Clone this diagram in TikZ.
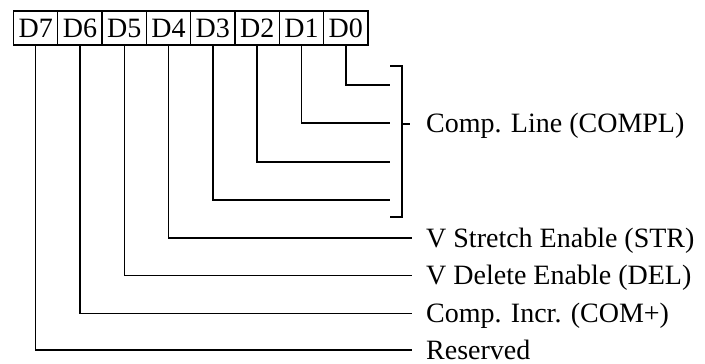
\documentclass[tikz,border=0pt]{standalone}
\usepackage{fontspec}
\setmainfont{Liberation Serif}
\begin{document}
\begin{tikzpicture}[x=1pt,y=-1pt,
  bitbox/.style={draw, line width=1.3pt, minimum width=44.3pt, minimum height=34pt, inner sep=0pt, font=\fontsize{28}{30}\selectfont},
  lbl/.style={anchor=base west, inner sep=0pt, font=\fontsize{28}{30}\selectfont},
  wire/.style={line width=1.5pt}]
\useasboundingbox (0,0) rectangle (705,364);
% register bits
\node[bitbox] (b7) at (35.65,28) {D7};
\node[bitbox] (b6) at (79.95,28) {D6};
\node[bitbox] (b5) at (124.25,28) {D5};
\node[bitbox] (b4) at (168.55,28) {D4};
\node[bitbox] (b3) at (212.85,28) {D3};
\node[bitbox] (b2) at (257.15,28) {D2};
\node[bitbox] (b1) at (301.45,28) {D1};
\node[bitbox] (b0) at (345.75,28) {D0};
% labels
\node[lbl] (lc) at (426,132.5) {Comp. Line (COMPL)};
\node[lbl] (l4) at (426,247) {V Stretch Enable (STR)};
\node[lbl] (l5) at (426,284.5) {V Delete Enable (DEL)};
\node[lbl] (l6) at (426,322.5) {Comp. Incr. (COM+)};
\node[lbl] (l7) at (426,359) {Reserved};
% free ends at the bracket
\coordinate (c0) at (390,85);
\coordinate (c1) at (390,123);
\coordinate (c2) at (390,162);
\coordinate (c3) at (390,200);
\coordinate (bt) at (390,66);
\coordinate (bb) at (390,217);
\coordinate (bm) at (402,124);
% connectors
\draw[wire] (b0.south) |- (c0);
\draw[wire] (b1.south) |- (c1);
\draw[wire] (b2.south) |- (c2);
\draw[wire] (b3.south) |- (c3);
\draw[wire] (b4.south) |- ([xshift=-14pt,yshift=9pt]l4.base west);
\draw[wire] (b5.south) |- ([xshift=-14pt,yshift=9pt]l5.base west);
\draw[wire] (b6.south) |- ([xshift=-14pt,yshift=9pt]l6.base west);
\draw[wire] (b7.south) |- ([xshift=-14pt,yshift=9pt]l7.base west);
% bracket
\draw[wire] (bt) -- ++(12,0) |- (bb);
\draw[wire] (bm) -- ([xshift=-16pt,yshift=8.5pt]lc.base west);
\end{tikzpicture}
\end{document}
